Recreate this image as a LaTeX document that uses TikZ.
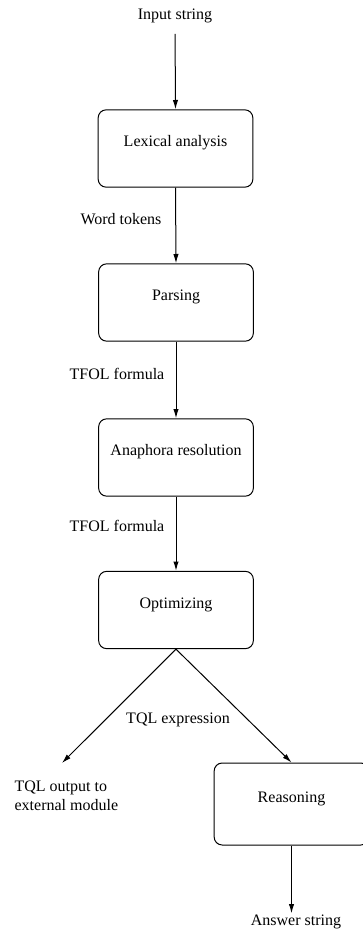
\documentclass[tikz,border=0pt]{standalone}
\usepackage{fontspec}
\setmainfont{Liberation Serif}
\newfontfamily\schemafont{Liberation Serif}
\usetikzlibrary{arrows.meta,positioning}

\tikzset{
  etape/.style={draw,rounded corners=6pt,line width=0.75pt,minimum width=116pt,
    minimum height=58pt,text height=8pt,text depth=10.5pt,inner sep=0pt},
  texte/.style={inner sep=1pt},
  fleche/.style={line width=0.75pt,-{Latex[length=7pt,width=4pt]}}
}

\begin{document}
\begin{tikzpicture}[x=0.75pt,y=-0.75pt,every node/.append style={font=\schemafont\fontsize{12}{14}\selectfont}]
\useasboundingbox (0,0) rectangle (362,941);

  % entree et sortie
\node[texte] (input) at (175,16) {Input string};
\node[texte] (answer) at (296,922) {Answer string};
\node[texte,align=left,anchor=west] (tqlout) at (13,796) {TQL output to\\external module};
\coordinate (outend) at (62,763);

  % etapes
\node[etape] (lex) at (175.5,148.5) {Lexical analysis};
\node[etape] (parse) at (176,302.5) {Parsing};
\node[etape] (ana) at (176,457.5) {Anaphora resolution};
\node[etape] (opt) at (176,610) {Optimizing};
\node[etape,minimum height=61.5pt] (reas) at (291.5,804) {Reasoning};

  % etiquettes
\node[texte] (tokens) at (121,219) {Word tokens};
\node[texte] (tfol1) at (117,374) {TFOL formula};
\node[texte] (tfol2) at (117,526) {TFOL formula};
\node[texte] (tqlexpr) at (178,720) {TQL expression};

  % fleches
\draw[fleche,shorten <=7pt] (input.south) -- (lex.north);
\draw[fleche] (lex.south) -- (parse.north);
\draw[fleche] (parse.south) -- (ana.north);
\draw[fleche] (ana.south) -- (opt.north);
\draw[fleche] (opt.south) -- (outend);
\draw[fleche] (opt.south) -- (reas.north);
\draw[fleche] (reas.south) -- (reas.south |- answer.north);
\end{tikzpicture}
\end{document}
